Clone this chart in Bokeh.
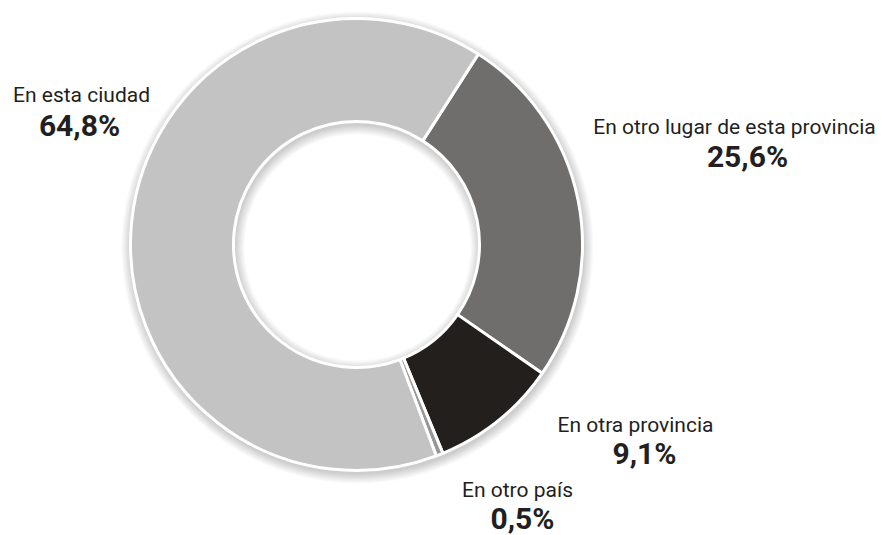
import math
from bokeh.plotting import figure
from bokeh.models import Range1d, ColumnDataSource
from bokeh.core.properties import value
from bokeh.embed import file_html
from bokeh.resources import INLINE

# ---- data ----
categories = ["En otro lugar de esta provincia", "En otra provincia", "En otro país", "En esta ciudad"]
shares = [25.6, 9.1, 0.5, 64.8]
pct_labels = ["25,6%", "9,1%", "0,5%", "64,8%"]
colors = ["#6f6e6c", "#231f1d", "#989798", "#c3c3c3"]

# ---- layout (screen pixels) ----
W, H = 881, 535
cx, cy = 356, 244
R_out, R_in = 226, 123
start_clock_deg = 32.6  # clockwise from 12 o'clock

p = figure(width=W, height=H, output_backend="svg", toolbar_location=None,
           x_range=Range1d(0, W), y_range=Range1d(-H, 0),
           min_border=0, x_axis_location=None, y_axis_location=None)
p.grid.visible = False
p.outline_line_color = None
p.background_fill_color = "white"

# soft shadow
for k in range(1, 11):
    p.annulus(x=cx + 1, y=-(cy + 3), inner_radius=max(R_in - k, 1), outer_radius=R_out + k,
              fill_color="#000000", fill_alpha=0.018, line_color=None)

# wedges
total = sum(shares)
starts, ends = [], []
acc = start_clock_deg
for s in shares:
    a0 = acc
    a1 = acc + s / total * 360.0
    starts.append(math.radians(90 - a0))
    ends.append(math.radians(90 - a1))
    acc = a1

src = ColumnDataSource(dict(start=starts, end=ends, color=colors, cat=categories))
p.annular_wedge(x=cx, y=-cy, inner_radius=R_in, outer_radius=R_out,
                start_angle="start", end_angle="end", direction="clock",
                fill_color="color", line_color="white", line_width=3, source=src)

# labels: (center x of name, baseline of name, center x of percent, baseline of percent)
label_pos = [(734, 126, 747, 156), (635, 424, 644, 453), (517, 489, 522, 518), (81, 94, 79, 125)]
name_x = [lp[0] for lp in label_pos]
name_y = [-lp[1] for lp in label_pos]
pct_x = [lp[2] for lp in label_pos]
pct_y = [-lp[3] for lp in label_pos]

font = "Roboto"
p.text(x=name_x, y=name_y, text=categories, text_align="center", text_baseline="alphabetic",
       text_font=value(font), text_font_size="21px", text_color="#231f20")
p.text(x=pct_x, y=pct_y, text=pct_labels, text_align="center", text_baseline="alphabetic",
       text_font=value(font), text_font_size="30px", text_font_style="bold", text_color="#231f20")

open("out.html", "w").write(file_html(p, INLINE))
